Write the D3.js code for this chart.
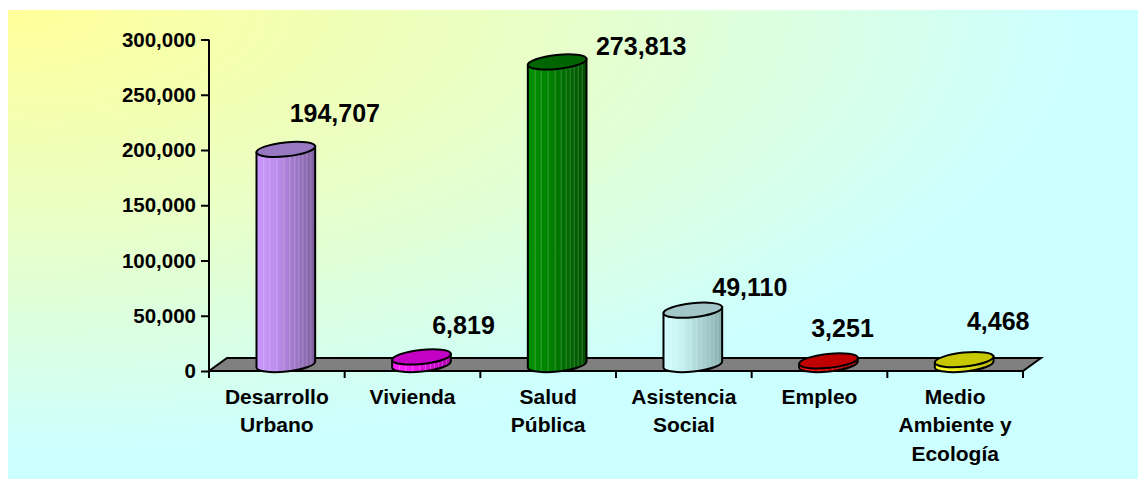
<!DOCTYPE html>
<html>
<head>
<meta charset="utf-8">
<script src="https://cdn.jsdelivr.net/npm/d3@7"></script>
<style>
  html, body { margin: 0; padding: 0; background: #ffffff; }
  svg { display: block; }
  text { font-family: "Liberation Sans", Arial, sans-serif; font-weight: bold; fill: #000; }
</style>
</head>
<body>
<svg id="chart" width="1138" height="479"></svg>
<script>
// ---- data ----
const categories = ["Desarrollo\nUrbano", "Vivienda", "Salud\nPública", "Asistencia\nSocial", "Empleo", "Medio\nAmbiente y\nEcología"];
const values = [194707, 6819, 273813, 49110, 3251, 4468];
const valueLabels = ["194,707", "6,819", "273,813", "49,110", "3,251", "4,468"];
const yTicks = [0, 50000, 100000, 150000, 200000, 250000, 300000];

// ---- styling / layout (not data) ----
const sideLight = ["#cc99ff", "#ff22ff", "#009000", "#d4ffff", "#ff1010", "#ffff20"];
const sideDark  = ["#7d5f9e", "#b000b0", "#004f00", "#86aeae", "#a00000", "#b0b000"];
const topFill   = ["#9878c0", "#c400c4", "#006400", "#a3c6c9", "#c00000", "#c8c800"];
const labelNudge = [[49, -27], [42, -23], [84, -7], [57, -14], [14, -24], [34, -30]];

const svg = d3.select("#chart");
const W = 1138, H = 479;

// background gradient
const defs = svg.append("defs");
const bg = defs.append("radialGradient").attr("id", "bg")
  .attr("cx", 0).attr("cy", 0).attr("r", 0.95).attr("fx", 0).attr("fy", 0);
bg.append("stop").attr("offset", 0).attr("stop-color", "#ffff99");
bg.append("stop").attr("offset", 0.5).attr("stop-color", "#e8ffc8");
bg.append("stop").attr("offset", 1).attr("stop-color", "#ccffff");
svg.append("rect").attr("x", 8).attr("y", 10).attr("width", W - 8).attr("height", H - 10)
  .attr("fill", "url(#bg)");

// scales
const x0 = 209, x1 = 1023, yBase = 371, yTop = 39.5;
const depthDx = 18, depthDy = -13;
const y = d3.scaleLinear().domain([0, 300000]).range([yBase, yTop]);
const x = d3.scaleBand().domain(categories).range([x0, x1]).padding(0);

// floor
svg.append("path")
  .attr("d", `M${x0},${yBase} L${x1},${yBase} L${x1 + depthDx},${yBase + depthDy} L${x0 + depthDx},${yBase + depthDy} Z`)
  .attr("fill", "#808080").attr("stroke", "#000").attr("stroke-width", 2).attr("stroke-linejoin", "miter");

// y axis
const yAxis = svg.append("g").attr("transform", `translate(${x0},0)`)
  .call(d3.axisLeft(y).tickValues(yTicks).tickFormat(d3.format(",")).tickSize(8).tickPadding(5));
yAxis.select(".domain").remove();
yAxis.selectAll(".tick line").attr("stroke", "#000").attr("stroke-width", 2);
yAxis.selectAll(".tick text").attr("font-size", 20.5)
  .style("font-family", '"Liberation Sans", Arial, sans-serif').style("font-weight", "bold");
svg.append("line").attr("x1", x0).attr("x2", x0).attr("y1", yTop).attr("y2", yBase + 7)
  .attr("stroke", "#000").attr("stroke-width", 2);

// x ticks at band edges
const edges = categories.map(c => x(c)).concat([x1]);
svg.selectAll(".xtick").data(edges).enter().append("line")
  .attr("x1", d => d).attr("x2", d => d).attr("y1", yBase).attr("y2", yBase + 7)
  .attr("stroke", "#000").attr("stroke-width", 2);

// category labels
categories.forEach(c => {
  const lines = c.split("\n");
  const t = svg.append("text").attr("text-anchor", "middle").attr("font-size", 21)
    .attr("x", x(c) + x.bandwidth() / 2);
  lines.forEach((l, i) => {
    t.append("tspan").attr("x", x(c) + x.bandwidth() / 2).attr("y", 404 + i * 28.3).text(l);
  });
});

// cylinders
const rx = 29.5, ry = 7, rot = -6;
const th = rot * Math.PI / 180;
const ex = rx * Math.cos(th), ey = rx * Math.sin(th);

categories.forEach((c, i) => {
  const cx = x(c) + x.bandwidth() / 2 + depthDx / 2;
  const yb = yBase + depthDy / 2;
  const yt = y(values[i]) + depthDy / 2;

  const gid = "side" + i;
  const g = defs.append("linearGradient").attr("id", gid).attr("x1", 0).attr("x2", 1).attr("y1", 0).attr("y2", 0);
  g.append("stop").attr("offset", 0).attr("stop-color", sideLight[i]);
  g.append("stop").attr("offset", 0.35).attr("stop-color", d3.interpolateRgb(sideLight[i], sideDark[i])(0.2));
  g.append("stop").attr("offset", 1).attr("stop-color", sideDark[i]);

  const grp = svg.append("g");
  const bodyPath = `M${cx - ex},${yt - ey} L${cx - ex},${yb - ey} A${rx},${ry} ${rot} 0 0 ${cx + ex},${yb + ey} L${cx + ex},${yt + ey} Z`;
  const clipId = "clip" + i;
  defs.append("clipPath").attr("id", clipId).append("path").attr("d", bodyPath);
  grp.append("path").attr("d", bodyPath).attr("fill", `url(#${gid})`);
  // subtle vertical stripes
  const stripes = [-22, -16, -9, -2, 4, 9, 13, 17, 21, 25];
  grp.append("g").attr("clip-path", `url(#${clipId})`).selectAll("line").data(stripes).enter().append("line")
    .attr("x1", d => cx + d).attr("x2", d => cx + d).attr("y1", yt - 10).attr("y2", yb + 10)
    .attr("stroke", "#ffffff").attr("stroke-opacity", 0.22).attr("stroke-width", 1);
  grp.append("path").attr("d", bodyPath).attr("fill", "none").attr("stroke", "#000").attr("stroke-width", 2);
  grp.append("ellipse").attr("cx", cx).attr("cy", yt).attr("rx", rx).attr("ry", ry)
    .attr("transform", `rotate(${rot},${cx},${yt})`)
    .attr("fill", topFill[i]).attr("stroke", "#000").attr("stroke-width", 2);

  svg.append("text").attr("text-anchor", "middle").attr("font-size", 25)
    .attr("x", cx + labelNudge[i][0]).attr("y", yt + labelNudge[i][1]).text(valueLabels[i]);
});
</script>
</body>
</html>
